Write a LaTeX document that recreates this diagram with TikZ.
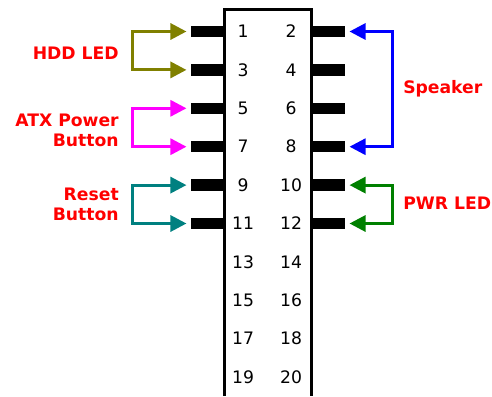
\documentclass[tikz,border=0pt]{standalone}
\usepackage{fontspec}
\setmainfont{DejaVu Sans}
\usetikzlibrary{arrows.meta}
\definecolor{hddolive}{RGB}{128,128,0}
\definecolor{atxmagenta}{RGB}{255,0,255}
\definecolor{resetteal}{RGB}{0,128,128}
\definecolor{spkblue}{RGB}{0,0,255}
\definecolor{pwrgreen}{RGB}{0,128,0}
\definecolor{lblred}{RGB}{255,0,0}

\begin{document}
\begin{tikzpicture}[x=0.75pt, y=-0.75pt,
  >={Triangle[length=12pt, width=12pt]},
  pin/.style={fill=black, minimum width=24.75pt, minimum height=8.6pt, inner sep=0pt},
  num/.style={font=\fontsize{12.9}{15}\selectfont, inner sep=0pt},
  lbl/.style={font=\fontsize{12.9}{15}\selectfont\bfseries, text=lblred, inner sep=0pt},
  wire/.style={<->, line width=2.25pt, shorten <=3pt, shorten >=3pt}]
  \useasboundingbox (0,0) rectangle (492,396);
  % header outline, open at the bottom
  \draw[line width=2.6pt] (224.5,396) -- (224.5,9.5) -- (311.5,9.5) -- (311.5,396);
  \foreach \r in {0,...,9} {
    \pgfmathtruncatemacro{\odd}{2*\r+1}
    \pgfmathtruncatemacro{\even}{2*\r+2}
    \node[num] (n\odd) at (243, {31.5+38.4*\r}) {\odd};
    \node[num] (n\even) at (291, {31.5+38.4*\r}) {\even};
    \ifnum\r<6
      \node[pin, anchor=east] (lp\odd) at (224, {31.5+38.4*\r}) {};
      \node[pin, anchor=west] (rp\even) at (312, {31.5+38.4*\r}) {};
    \fi
  }
  % connectors
  \draw[wire, hddolive] (lp1.west) -- ++(-58,0) |- (lp3.west);
  \draw[wire, atxmagenta] (lp5.west) -- ++(-58,0) |- (lp7.west);
  \draw[wire, resetteal] (lp9.west) -- ++(-58,0) |- (lp11.west);
  \draw[wire, spkblue] (rp2.east) -- ++(47,0) |- (rp8.east);
  \draw[wire, pwrgreen] (rp10.east) -- ++(47,0) |- (rp12.east);
  % labels
  \node[lbl, anchor=east] (hdd) at (119,53) {HDD LED};
  \node[lbl, anchor=east, align=right] (atx) at (119,130) {ATX Power\\Button};
  \node[lbl, anchor=east, align=right] (reset) at (119,204) {Reset\\Button};
  \node[lbl, anchor=west] (spk) at (403,89) {Speaker};
  \node[lbl, anchor=west] (pwr) at (403,203) {PWR LED};
\end{tikzpicture}
\end{document}
